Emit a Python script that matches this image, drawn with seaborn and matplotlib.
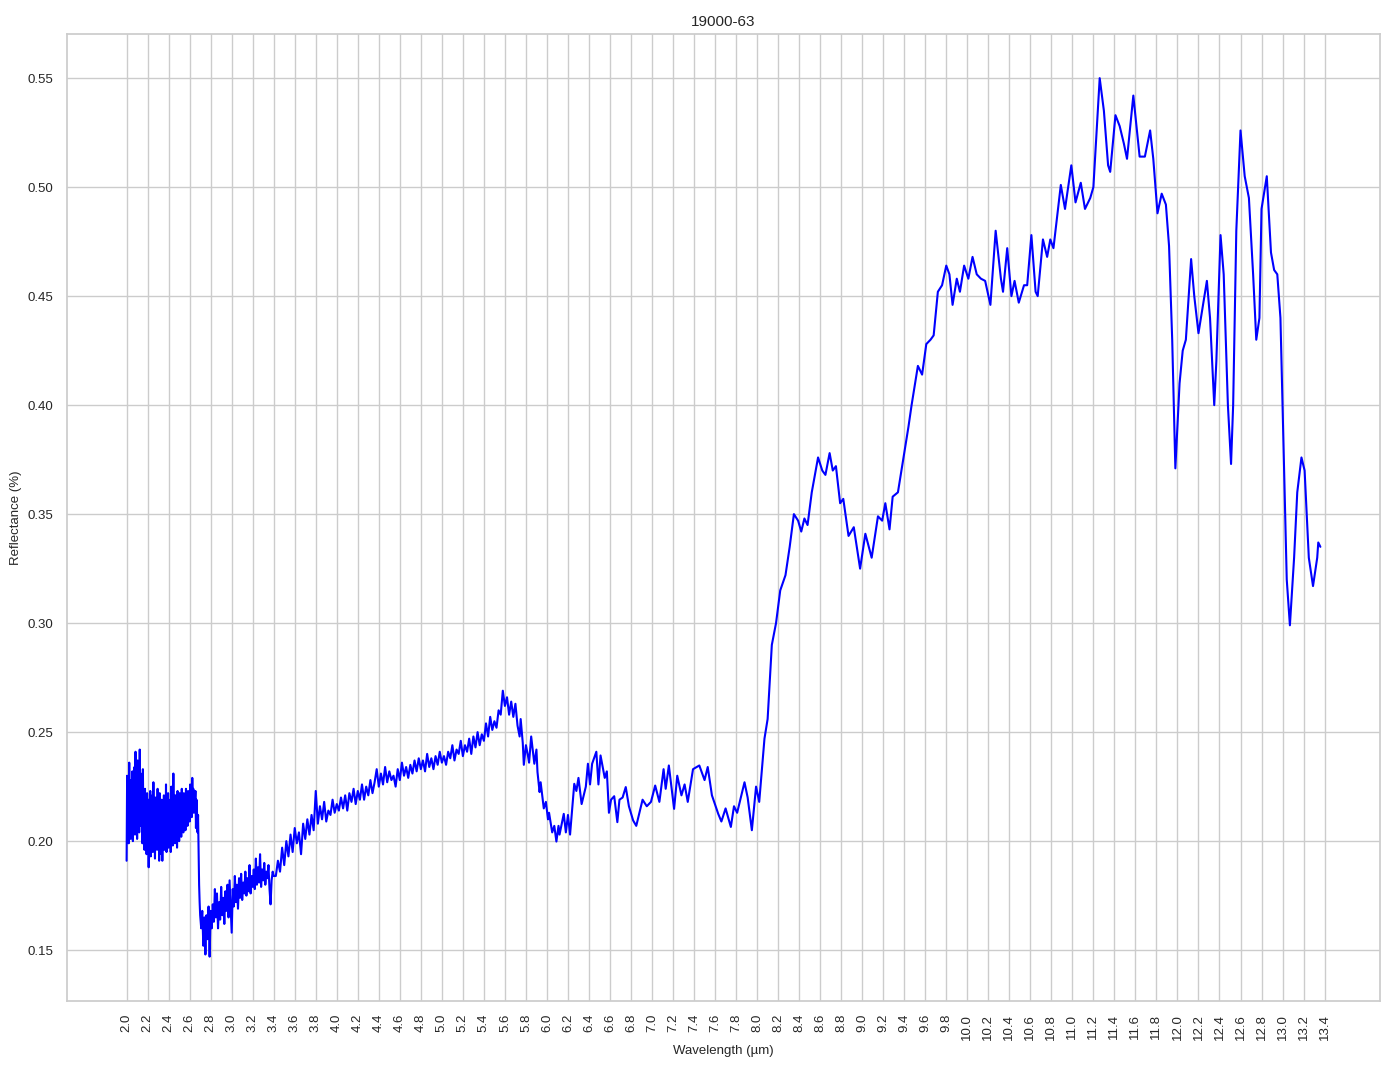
import matplotlib
matplotlib.use("Agg")
import matplotlib.pyplot as plt
import seaborn as sns
import pandas as pd
import numpy as np

# noisy start of the spectrum (2.000 - 2.700 um)
wl_a = [2.000, 2.005, 2.010, 2.015, 2.020, 2.025, 2.030, 2.035, 2.040, 2.045,
        2.050, 2.055, 2.060, 2.065, 2.070, 2.075, 2.080, 2.085, 2.090, 2.095,
        2.100, 2.105, 2.110, 2.115, 2.120, 2.125, 2.130, 2.135, 2.140, 2.145,
        2.150, 2.155, 2.160, 2.165, 2.170, 2.175, 2.180, 2.185, 2.190, 2.195,
        2.200, 2.205, 2.210, 2.215, 2.220, 2.225, 2.230, 2.235, 2.240, 2.245,
        2.250, 2.255, 2.260, 2.265, 2.270, 2.275, 2.280, 2.285, 2.290, 2.295,
        2.300, 2.305, 2.310, 2.315, 2.320, 2.325, 2.330, 2.335, 2.340, 2.345,
        2.350, 2.355, 2.360, 2.365, 2.370, 2.375, 2.380, 2.385, 2.390, 2.395,
        2.400, 2.405, 2.410, 2.415, 2.420, 2.425, 2.430, 2.435, 2.440, 2.445,
        2.450, 2.455, 2.460, 2.465, 2.470, 2.475, 2.480, 2.485, 2.490, 2.495,
        2.500, 2.505, 2.510, 2.515, 2.520, 2.525, 2.530, 2.535, 2.540, 2.545,
        2.550, 2.555, 2.560, 2.565, 2.570, 2.575, 2.580, 2.585, 2.590, 2.595,
        2.600, 2.605, 2.610, 2.615, 2.620, 2.625, 2.630, 2.635, 2.640, 2.645,
        2.650, 2.655, 2.660, 2.665, 2.670, 2.675, 2.680, 2.685, 2.690, 2.695,
        2.700]
refl_a = [0.191, 0.230, 0.205, 0.224, 0.199, 0.236, 0.210, 0.228, 0.201, 0.219,
          0.206, 0.232, 0.200, 0.225, 0.212, 0.234, 0.203, 0.241, 0.208, 0.226,
          0.201, 0.237, 0.215, 0.229, 0.204, 0.242, 0.207, 0.231, 0.210, 0.226,
          0.199, 0.233, 0.209, 0.221, 0.196, 0.224, 0.205, 0.218, 0.194, 0.222,
          0.201, 0.219, 0.188, 0.215, 0.199, 0.223, 0.193, 0.217, 0.203, 0.221,
          0.195, 0.227, 0.200, 0.214, 0.192, 0.220, 0.204, 0.218, 0.196, 0.224,
          0.199, 0.216, 0.191, 0.222, 0.202, 0.215, 0.194, 0.219, 0.191, 0.213,
          0.200, 0.221, 0.196, 0.217, 0.203, 0.226, 0.195, 0.214, 0.199, 0.222,
          0.197, 0.216, 0.202, 0.219, 0.195, 0.225, 0.200, 0.215, 0.198, 0.231,
          0.201, 0.217, 0.199, 0.221, 0.204, 0.218, 0.197, 0.223, 0.205, 0.216,
          0.200, 0.222, 0.207, 0.219, 0.202, 0.224, 0.208, 0.217, 0.204, 0.222,
          0.210, 0.219, 0.205, 0.224, 0.212, 0.220, 0.207, 0.223, 0.213, 0.221,
          0.209, 0.226, 0.214, 0.222, 0.211, 0.229, 0.216, 0.224, 0.213, 0.221,
          0.217, 0.223, 0.206, 0.219, 0.213, 0.204, 0.212, 0.196, 0.180, 0.172,
          0.166]

# drop and start of the rise (2.71 - 3.40 um)
wl_b = [2.71, 2.72, 2.73, 2.74, 2.75, 2.76, 2.77, 2.78, 2.79, 2.80,
        2.81, 2.82, 2.83, 2.84, 2.85, 2.86, 2.87, 2.88, 2.89, 2.90,
        2.91, 2.92, 2.93, 2.94, 2.95, 2.96, 2.97, 2.98, 2.99, 3.00,
        3.01, 3.02, 3.03, 3.04, 3.05, 3.06, 3.07, 3.08, 3.09, 3.10,
        3.11, 3.12, 3.13, 3.14, 3.15, 3.16, 3.17, 3.18, 3.19, 3.20,
        3.21, 3.22, 3.23, 3.24, 3.25, 3.26, 3.27, 3.28, 3.29, 3.30,
        3.31, 3.32, 3.33, 3.34, 3.35, 3.36, 3.37, 3.38, 3.39, 3.40]
refl_b = [0.160, 0.168, 0.152, 0.165, 0.148, 0.166, 0.155, 0.170, 0.147, 0.168,
          0.160, 0.171, 0.163, 0.178, 0.165, 0.176, 0.160, 0.172, 0.164, 0.179,
          0.166, 0.174, 0.162, 0.177, 0.168, 0.180, 0.165, 0.182, 0.170, 0.158,
          0.178, 0.170, 0.184, 0.172, 0.180, 0.169, 0.183, 0.174, 0.185, 0.173,
          0.181, 0.176, 0.186, 0.175, 0.183, 0.177, 0.189, 0.176, 0.184, 0.179,
          0.187, 0.178, 0.192, 0.180, 0.188, 0.181, 0.194, 0.179, 0.187, 0.182,
          0.190, 0.180, 0.186, 0.183, 0.189, 0.178, 0.171, 0.182, 0.186, 0.184]

# noisy slope up to the 5.6 um peak (3.42 - 5.68 um)
wl_c = [3.42, 3.44, 3.46, 3.48, 3.50, 3.52, 3.54, 3.56, 3.58, 3.60,
        3.62, 3.64, 3.66, 3.68, 3.70, 3.72, 3.74, 3.76, 3.78, 3.80,
        3.82, 3.84, 3.86, 3.88, 3.90, 3.92, 3.94, 3.96, 3.98, 4.00,
        4.02, 4.04, 4.06, 4.08, 4.10, 4.12, 4.14, 4.16, 4.18, 4.20,
        4.22, 4.24, 4.26, 4.28, 4.30, 4.32, 4.34, 4.36, 4.38, 4.40,
        4.42, 4.44, 4.46, 4.48, 4.50, 4.52, 4.54, 4.56, 4.58, 4.60,
        4.62, 4.64, 4.66, 4.68, 4.70, 4.72, 4.74, 4.76, 4.78, 4.80,
        4.82, 4.84, 4.86, 4.88, 4.90, 4.92, 4.94, 4.96, 4.98, 5.00,
        5.02, 5.04, 5.06, 5.08, 5.10, 5.12, 5.14, 5.16, 5.18, 5.20,
        5.22, 5.24, 5.26, 5.28, 5.30, 5.32, 5.34, 5.36, 5.38, 5.40,
        5.42, 5.44, 5.46, 5.48, 5.50, 5.52, 5.54, 5.56, 5.58, 5.60,
        5.62, 5.64, 5.66, 5.68]
refl_c = [0.184, 0.191, 0.186, 0.197, 0.189, 0.200, 0.193, 0.203, 0.195, 0.206,
          0.199, 0.204, 0.194, 0.208, 0.201, 0.210, 0.203, 0.212, 0.205, 0.223,
          0.208, 0.216, 0.210, 0.218, 0.209, 0.214, 0.212, 0.219, 0.213, 0.217,
          0.214, 0.220, 0.215, 0.221, 0.214, 0.222, 0.218, 0.224, 0.217, 0.223,
          0.219, 0.226, 0.219, 0.225, 0.221, 0.228, 0.222, 0.227, 0.233, 0.225,
          0.231, 0.226, 0.234, 0.227, 0.232, 0.228, 0.230, 0.225, 0.233, 0.228,
          0.236, 0.230, 0.234, 0.229, 0.235, 0.231, 0.237, 0.232, 0.238, 0.233,
          0.237, 0.232, 0.240, 0.234, 0.238, 0.233, 0.239, 0.235, 0.241, 0.236,
          0.239, 0.235, 0.241, 0.238, 0.244, 0.237, 0.242, 0.240, 0.246, 0.239,
          0.244, 0.241, 0.247, 0.240, 0.248, 0.243, 0.250, 0.244, 0.249, 0.246,
          0.254, 0.248, 0.257, 0.251, 0.255, 0.252, 0.260, 0.258, 0.269, 0.262,
          0.266, 0.258, 0.264, 0.257]

# smoother bumps before the big rise (5.70 - 8.10 um)
wl_d = [5.70, 5.72, 5.74, 5.75, 5.77, 5.78, 5.80, 5.82, 5.83, 5.85,
        5.88, 5.90, 5.91, 5.93, 5.94, 5.96, 5.97, 5.99, 6.01, 6.02,
        6.04, 6.05, 6.07, 6.09, 6.11, 6.12, 6.16, 6.18, 6.20, 6.22,
        6.26, 6.28, 6.30, 6.33, 6.37, 6.39, 6.41, 6.43, 6.47, 6.49,
        6.51, 6.55, 6.57, 6.59, 6.61, 6.64, 6.67, 6.69, 6.72, 6.75,
        6.78, 6.82, 6.85, 6.88, 6.91, 6.95, 6.99, 7.03, 7.07, 7.11,
        7.13, 7.16, 7.21, 7.24, 7.28, 7.31, 7.34, 7.39, 7.45, 7.50,
        7.53, 7.57, 7.63, 7.66, 7.70, 7.75, 7.78, 7.81, 7.88, 7.91,
        7.95, 7.99, 8.02, 8.07, 8.10]
refl_d = [0.263, 0.253, 0.248, 0.256, 0.245, 0.235, 0.244, 0.239, 0.236, 0.248,
          0.2355, 0.242, 0.2317, 0.2225, 0.227, 0.219, 0.215, 0.218, 0.210, 0.213,
          0.207, 0.204, 0.207, 0.1998, 0.207, 0.203, 0.2125, 0.204, 0.212, 0.203,
          0.2263, 0.223, 0.229, 0.217, 0.225, 0.2355, 0.226, 0.2355, 0.241, 0.226,
          0.2393, 0.229, 0.232, 0.213, 0.219, 0.2206, 0.2087, 0.219, 0.220, 0.2248,
          0.216, 0.2095, 0.207, 0.213, 0.219, 0.216, 0.218, 0.2255, 0.218, 0.233,
          0.224, 0.2347, 0.2148, 0.230, 0.221, 0.226, 0.218, 0.233, 0.2347, 0.228,
          0.234, 0.221, 0.2125, 0.209, 0.215, 0.2065, 0.216, 0.213, 0.227, 0.220,
          0.205, 0.225, 0.218, 0.247, 0.256]

# mid-infrared part (8.14 - 13.36 um)
wl_e = [8.14, 8.18, 8.22, 8.27, 8.31, 8.35, 8.39, 8.42, 8.45, 8.48,
        8.52, 8.58, 8.62, 8.65, 8.69, 8.72, 8.75, 8.79, 8.82, 8.87,
        8.92, 8.98, 9.03, 9.09, 9.15, 9.19, 9.22, 9.26, 9.29, 9.34,
        9.39, 9.44, 9.47, 9.53, 9.57, 9.61, 9.65, 9.68, 9.72, 9.76,
        9.80, 9.83, 9.86, 9.90, 9.93, 9.97, 10.01, 10.05, 10.09, 10.13,
        10.17, 10.22, 10.27, 10.32, 10.34, 10.38, 10.42, 10.45, 10.49, 10.54,
        10.57, 10.61, 10.65, 10.67, 10.72, 10.76, 10.79, 10.82, 10.89, 10.93,
        10.99, 11.03, 11.08, 11.12, 11.17, 11.20, 11.26, 11.30, 11.34, 11.36,
        11.41, 11.45, 11.49, 11.52, 11.58, 11.64, 11.69, 11.74, 11.77, 11.81,
        11.85, 11.89, 11.92, 11.95, 11.98, 12.02, 12.05, 12.08, 12.13, 12.16,
        12.20, 12.24, 12.28, 12.31, 12.35, 12.37, 12.41, 12.44, 12.48, 12.51,
        12.53, 12.56, 12.60, 12.64, 12.68, 12.72, 12.75, 12.78, 12.80, 12.85,
        12.89, 12.92, 12.95, 12.98, 13.01, 13.04, 13.07, 13.11, 13.14, 13.18,
        13.21, 13.25, 13.29, 13.33, 13.34, 13.36]
refl_e = [0.290, 0.300, 0.315, 0.322, 0.335, 0.350, 0.347, 0.342, 0.348, 0.345,
          0.360, 0.376, 0.370, 0.368, 0.378, 0.370, 0.372, 0.355, 0.357, 0.340,
          0.344, 0.325, 0.341, 0.330, 0.349, 0.347, 0.355, 0.343, 0.358, 0.360,
          0.375, 0.390, 0.400, 0.418, 0.414, 0.428, 0.430, 0.432, 0.452, 0.455,
          0.464, 0.460, 0.446, 0.458, 0.452, 0.464, 0.458, 0.468, 0.460, 0.458,
          0.457, 0.446, 0.480, 0.458, 0.452, 0.472, 0.450, 0.457, 0.447, 0.455,
          0.455, 0.478, 0.452, 0.450, 0.476, 0.468, 0.476, 0.472, 0.501, 0.490,
          0.510, 0.493, 0.502, 0.490, 0.495, 0.500, 0.550, 0.535, 0.510, 0.507,
          0.533, 0.528, 0.520, 0.513, 0.542, 0.514, 0.514, 0.526, 0.513, 0.488,
          0.497, 0.492, 0.473, 0.430, 0.371, 0.410, 0.425, 0.430, 0.467, 0.450,
          0.433, 0.445, 0.457, 0.440, 0.400, 0.420, 0.478, 0.460, 0.400, 0.373,
          0.400, 0.480, 0.526, 0.505, 0.495, 0.460, 0.430, 0.440, 0.490, 0.505,
          0.470, 0.462, 0.460, 0.440, 0.380, 0.320, 0.299, 0.330, 0.360, 0.376,
          0.370, 0.330, 0.317, 0.330, 0.337, 0.335]

wavelength = wl_a + wl_b + wl_c + wl_d + wl_e
reflectance = refl_a + refl_b + refl_c + refl_d + refl_e
df = pd.DataFrame({"wavelength": wavelength, "reflectance": reflectance})

xticks = np.round(np.arange(2.0, 13.41, 0.2), 1)

sns.set_theme(style="whitegrid")
plt.rcParams["font.family"] = ["Liberation Sans", "DejaVu Sans"]

fig, ax = plt.subplots(figsize=(13.94, 10.69), dpi=100)
sns.lineplot(data=df, x="wavelength", y="reflectance", color="blue",
             linewidth=1.5, sort=False, ax=ax)
ax.set_xticks(xticks)
ax.set_xticklabels([f"{t:.1f}" for t in xticks], rotation=90, fontsize=9.5)
ax.tick_params(axis="y", labelsize=9.5)
ax.set_xlabel("Wavelength (µm)", fontsize=9.5)
ax.set_ylabel("Reflectance (%)", fontsize=9.5)
ax.set_title("19000-63", fontsize=11)
plt.subplots_adjust(left=0.048, right=0.990, top=0.968, bottom=0.064)
fig.savefig("out.png", dpi=100)
